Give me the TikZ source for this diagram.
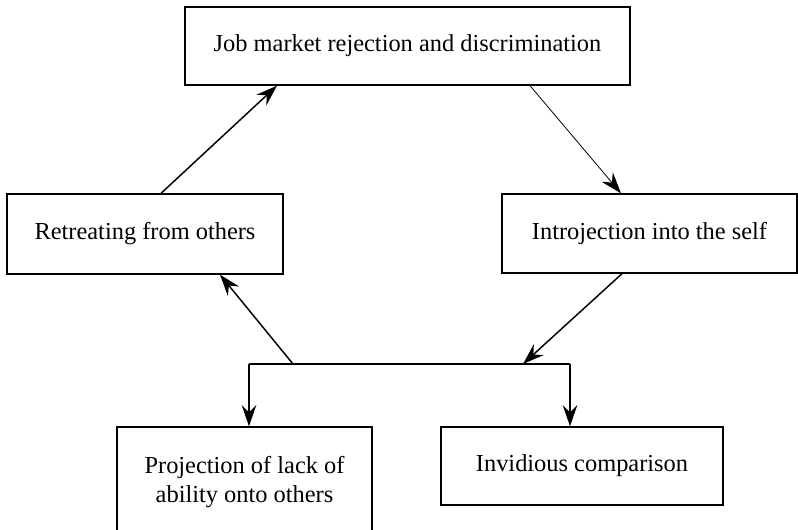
\documentclass[tikz,border=0pt]{standalone}
\usepackage{fontspec}
\setmainfont{Liberation Serif}
\usetikzlibrary{arrows.meta,calc}
\begin{document}
\begin{tikzpicture}[x=0.75pt,y=-0.75pt,>={Stealth[length=16pt,width=11pt,inset=5.5pt]},
	every node/.style={draw,rectangle,line width=1pt,inner sep=0pt,align=center,font=\fontsize{18.3}{21.5}\selectfont},
	link/.style={->,line width=1.1pt},
	thinlink/.style={->,line width=0.6pt}]
	\useasboundingbox (0,0) rectangle (798,530);
	\node[minimum width=333.75pt,minimum height=58.5pt] (job) at (407.5,46){Job market rejection and discrimination};
	\node[minimum width=207pt,minimum height=60pt] (ret) at (145,234){Retreating from others};
	\node[minimum width=221.25pt,minimum height=59.25pt] (intro) at (649.5,233.5){Introjection into the self};
	\node[minimum width=191.25pt,minimum height=82.5pt] (proj) at (244.5,482){Projection of lack of\\ability onto others};
	\node[minimum width=211.5pt,minimum height=58.5pt] (inv) at (582,466){Invidious comparison};
	% split point of the bracket
	\coordinate (bl) at (249,364);
	\coordinate (br) at (570,364);
	\coordinate (jl) at (293,364);
	\coordinate (jr) at (523,364);
	\draw[link] ($(ret.north)+(16,0)$)--($(job.south)+(-130.5,0)$);
	\draw[thinlink] ($(job.south)+(122.5,0)$)--($(intro.north)+(-28.5,0)$);
	\draw[link] ($(intro.south)+(-27.5,0)$)--(jr);
	\draw[link] (jl)--($(ret.south)+(75,0)$);
	\draw[line width=1.1pt] (bl)--(br);
	\draw[link] (bl)--(bl |- proj.north);
	\draw[link] (br)--(br |- inv.north);
\end{tikzpicture}
\end{document}
